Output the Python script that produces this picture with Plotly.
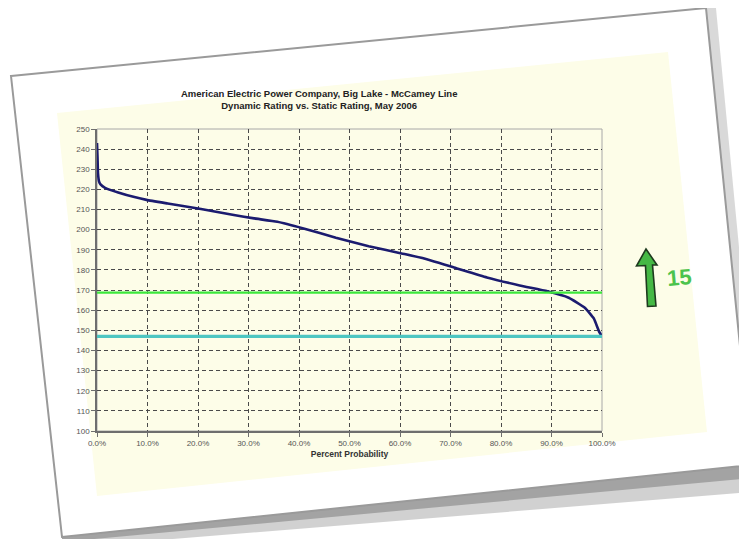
import plotly.graph_objects as go

# ---------------- data ----------------
pct_prob = [0, 0.1, 0.2, 0.4, 0.7, 1.6, 4.2, 7.4, 9.8, 14, 20.6, 27.1, 31.1, 35.7,
            40.9, 47.3, 53.8, 60.3, 64.2, 70.7, 77.2, 83.7, 89.2, 93.4, 96.6,
            98.4, 99.4, 100]
dynamic_rating = [243, 236, 228, 224, 222.5, 220.8, 218.5, 216.2, 214.8, 213, 210.3,
                  207.3, 205.6, 203.9, 200.6, 196, 191.8, 188.2, 186, 181.2, 176.3,
                  172.3, 169.4, 166.2, 161.2, 155.8, 149.5, 147.0]
static_green = 168.7
static_cyan = 147.0
x_ticks = [i / 10 for i in range(11)]
y_ticks = list(range(100, 251, 10))
title_lines = ["American Electric Power Company, Big Lake - McCamey Line",
               "Dynamic Rating vs. Static Rating, May 2006"]
x_title = "Percent Probability"
arrow_text = "15"

# ---------------- layout geometry ----------------
OFF = 8                      # page body margin offset
W, H = 747 - OFF, 539 - OFF
ML, MT, PW, PH = 97 - OFF, 129 - OFF, 505, 302


def P(x, y):
    """screen pixel -> paper coords"""
    return (x - OFF - ML) / PW, 1 - (y - OFF - MT) / PH


def path(points):
    s = ""
    for i, (x, y) in enumerate(points):
        px, py = P(x, y)
        s += ("M" if i == 0 else "L") + f"{px:.4f},{py:.4f} "
    return s + "Z"


font = "Liberation Sans, Arial, sans-serif"

fig = go.Figure()

xs = [p / 100 for p in pct_prob]
fig.add_trace(go.Scatter(x=xs, y=dynamic_rating, mode="lines",
                         line=dict(color="#1b1b6f", width=2.6, shape="spline",
                                   smoothing=0.4), showlegend=False))
fig.add_trace(go.Scatter(x=[0, 1], y=[static_green, static_green], mode="lines+text",
                         text=["", f"{static_green:.1f}"], textposition="middle right",
                         textfont=dict(size=6, color="#666", family=font),
                         line=dict(color="#3ce83c", width=2.2), showlegend=False))
fig.add_trace(go.Scatter(x=[0, 1], y=[static_cyan, static_cyan], mode="lines+text",
                         text=["", f"{static_cyan:.1f}"], textposition="middle right",
                         textfont=dict(size=6, color="#666", family=font),
                         line=dict(color="#4ec6c2", width=3.4), showlegend=False))

shapes = []
# card shadow
shapes.append(dict(type="path", xref="paper", yref="paper", layer="below",
                   path=path([(62, 537), (752, 465), (752, 492), (62, 548)]),
                   fillcolor="rgba(0,0,0,0.18)", line=dict(width=0)))
shapes.append(dict(type="path", xref="paper", yref="paper", layer="below",
                   path=path([(62, 537), (752, 465), (752, 478), (62, 542)]),
                   fillcolor="rgba(0,0,0,0.22)", line=dict(width=0)))
shapes.append(dict(type="path", xref="paper", yref="paper", layer="below",
                   path=path([(706, 8), (752, 465), (760, 465), (716, 8)]),
                   fillcolor="rgba(0,0,0,0.15)", line=dict(width=0)))
# card
shapes.append(dict(type="path", xref="paper", yref="paper", layer="below",
                   path=path([(11, 76), (706, 8), (752, 465), (62, 537)]),
                   fillcolor="white", line=dict(color="#9a9a9a", width=2)))
# cream slide area
shapes.append(dict(type="path", xref="paper", yref="paper", layer="below",
                   path=path([(57, 113), (668, 52), (707, 432), (97, 496)]),
                   fillcolor="#fdfde8", line=dict(width=0)))
# plot border (top / right light)
shapes.append(dict(type="rect", xref="paper", yref="paper", layer="below",
                   x0=0, x1=1, y0=0, y1=1, line=dict(color="#a8a8a8", width=1)))
# green block arrow
shapes.append(dict(type="path", xref="paper", yref="paper", layer="above",
                   path=path([(646, 249), (657, 265), (652.5, 265), (656, 306),
                              (647.5, 306.5), (645.5, 265.5), (636.5, 266)]),
                   fillcolor="#45b845", line=dict(color="#1e3a1e", width=1.6)))

tx, ty = P(664, 277)
fig.update_layout(
    width=W, height=H, autosize=False,
    margin=dict(l=ML, r=W - ML - PW, t=MT, b=H - MT - PH),
    paper_bgcolor="white", plot_bgcolor="rgba(0,0,0,0)",
    shapes=shapes,
    title=dict(text="<b>" + "<br>".join(title_lines) + "</b>",
               xref="paper", x=0.44, xanchor="center",
               yref="container", y=1 - (97 - OFF) / H, yanchor="middle",
               font=dict(size=9.5, color="#222", family=font)),
    annotations=[dict(text=f"<b>{arrow_text}</b>", xref="paper", yref="paper",
                      x=tx, y=ty, xanchor="left", yanchor="middle", showarrow=False,
                      font=dict(size=22, color="#4cc34c", family=font),
                      textangle=-5)],
    xaxis=dict(range=[0, 1], tickvals=x_ticks, tickformat=".1%",
               showgrid=True, gridcolor="#4a4a4a", griddash="4px,3px", gridwidth=1,
               showline=True, linecolor="#6e6e6e", linewidth=1.6,
               ticks="outside", ticklen=4, tickcolor="#6e6e6e",
               tickfont=dict(size=8, color="#555", family=font),
               zeroline=False,
               title=dict(text=f"<b>{x_title}</b>", standoff=4,
                          font=dict(size=8.5, color="#333", family=font))),
    yaxis=dict(range=[100, 250], tickvals=y_ticks,
               showgrid=True, gridcolor="#4a4a4a", griddash="4px,3px", gridwidth=1,
               showline=True, linecolor="#6e6e6e", linewidth=1.6,
               ticks="outside", ticklen=4, tickcolor="#6e6e6e",
               tickfont=dict(size=8, color="#555", family=font),
               zeroline=False),
)

fig.write_html("out.html")
